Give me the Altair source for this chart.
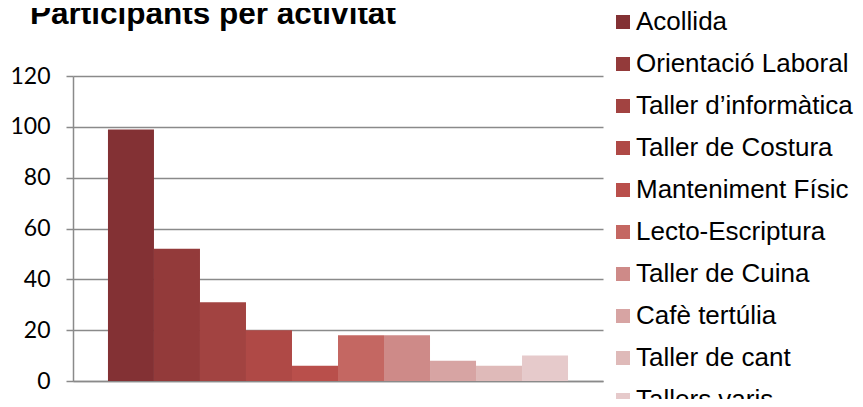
import altair as alt
import pandas as pd

titol = "Participants per activitat"
activitats = [" Acollida", "Orientació Laboral", "Taller d’informàtica", "Taller de Costura",
              "Manteniment Físic", "Lecto-Escriptura", "Taller de Cuina", "Cafè tertúlia",
              "Taller de cant", "Tallers varis"]
participants = [99, 52, 31, 20, 6, 18, 18, 8, 6, 10]
colors = ["#833134", "#933A3A", "#A24341", "#AF4946", "#B94F4B",
          "#C46762", "#CE8A88", "#D7A4A3", "#DFBAB9", "#E6CACB"]

df = pd.DataFrame({"activitat": activitats, "participants": participants})
df_title = pd.DataFrame({"titol": [titol]})

grid_color = "#8A8A8A"

bars = alt.Chart(df).mark_bar(stroke=None).encode(
    x=alt.X("activitat:N", sort=activitats,
            scale=alt.Scale(paddingInner=0, paddingOuter=0.76),
            axis=alt.Axis(labels=False, ticks=False, title=None, domain=True,
                          domainColor=grid_color, domainWidth=1.5)),
    y=alt.Y("participants:Q", scale=alt.Scale(domain=[0, 120], nice=False),
            axis=alt.Axis(values=[0, 20, 40, 60, 80, 100, 120], title=None,
                          grid=True, gridColor=grid_color, gridWidth=1.5,
                          tickColor=grid_color, tickWidth=1.5, tickSize=7,
                          domainColor=grid_color, domainWidth=1.5,
                          labelFont="Lato", labelFontSize=23, labelColor="#000000",
                          labelPadding=16)),
    color=alt.Color("activitat:N", sort=activitats,
                    scale=alt.Scale(domain=activitats, range=colors),
                    legend=alt.Legend(title=None, orient="none", legendX=537, legendY=-67,
                                      symbolType="square", symbolSize=196,
                                      symbolStrokeWidth=0,
                                      labelFont="Liberation Sans", labelFontSize=26,
                                      labelColor="#000000", labelOffset=0,
                                      rowPadding=16, padding=0, labelLimit=400)),
)

title_mark = alt.Chart(df_title).mark_text(
    font="Liberation Sans", fontSize=31.5, fontWeight="bold", color="#000000",
    align="left", baseline="alphabetic"
).encode(
    x=alt.value(-43),
    y=alt.value(-52),
    text="titol:N",
)

chart = alt.layer(bars, title_mark).properties(
    width=530,
    height=305,
    autosize=alt.AutoSizeParams(type="none"),
    padding={"left": 65, "top": 68, "right": 252, "bottom": 18},
).configure_view(stroke=None)

chart.save("out.html", embed_options={"renderer": "svg", "actions": False})
